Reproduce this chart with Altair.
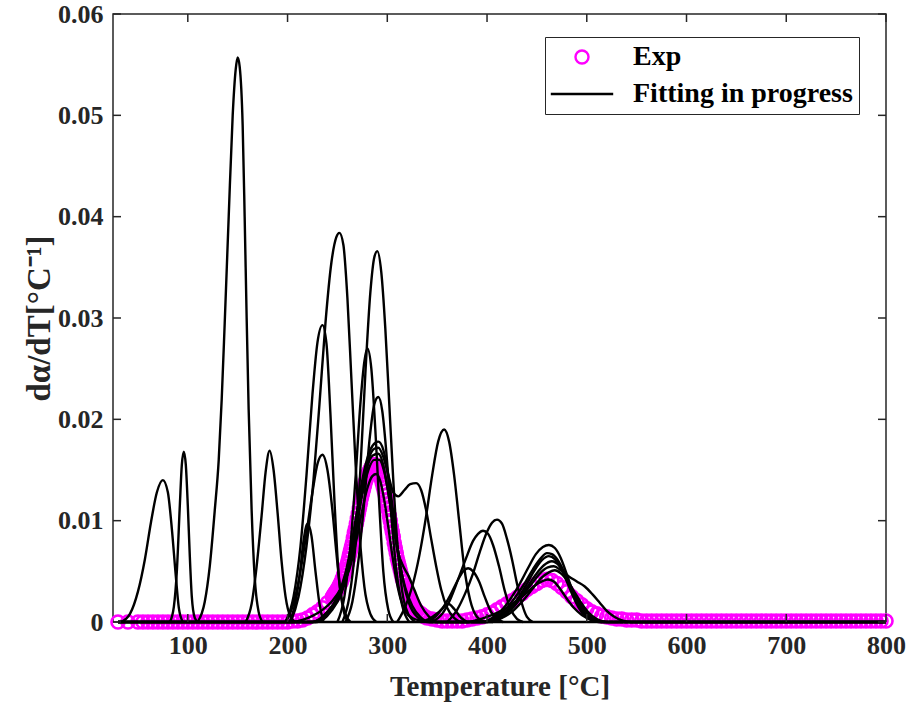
import altair as alt
import pandas as pd

# ---------------- data ----------------
exp_T = [30, 40, 50, 55, 60, 65, 70, 75, 80, 85, 90, 95, 100, 105, 110, 115, 120, 125, 130, 135,
         140, 145, 150, 155, 160, 165, 170, 175, 180, 185, 190, 195, 200, 205, 210, 215, 220, 225,
         230, 235, 240,
         245, 246, 247, 248, 249, 250, 251, 252, 253, 254, 255, 256, 257, 258, 259, 260, 261, 262,
         263, 264, 265, 266, 267, 268, 269, 270, 271, 272, 273, 274, 275, 276, 277, 278, 279, 280,
         281, 282, 283, 284, 285, 286, 287, 288, 289, 290, 291, 292, 293, 294, 295, 296, 297, 298,
         299, 300, 301, 302, 303, 304, 305, 306, 307, 308, 309, 310, 311, 312, 313, 314, 315, 316,
         317, 318, 319, 320, 321, 322, 323, 324, 325, 326, 327, 328, 329, 330, 332, 334, 336, 338,
         340, 345, 350, 355, 360, 365, 370, 375, 380, 385, 390, 395, 400, 405,
         410, 415, 420, 425, 430, 435, 440, 445, 450, 455, 460, 465, 470, 475, 480, 485, 490, 495,
         500, 505, 510, 515, 520, 525, 530, 535, 540, 545, 550, 555, 560, 565, 570, 575, 580, 585,
         590, 595, 600, 605, 610, 615, 620, 625, 630, 635, 640, 645, 650, 655, 660, 665, 670, 675,
         680, 685, 690, 695, 700, 705, 710, 715, 720, 725, 730, 735, 740, 745, 750, 755, 760, 765,
         770, 775, 780, 785, 790, 795, 800]
exp_y = [0.0, 0.0, 0.0, 0.0, 0.0, 0.0, 0.0, 0.0, 0.0, 0.0, 0.0, 0.0, 0.0, 0.0, 0.0, 0.0, 0.0, 0.0, 0.0, 0.0,
         0.0, 0.0, 0.0, 0.0, 0.0, 0.0, 0.0, 0.0, 0.0, 0.0, 0.0, 0.0, 0.0, 0.0001, 0.0001, 0.0002, 0.0004, 0.0007,
         0.0010, 0.0014, 0.0019,
         0.0025, 0.0026, 0.0028, 0.0029, 0.0031, 0.0032, 0.0034, 0.0036, 0.0038, 0.0040, 0.0043, 0.0046, 0.0049, 0.0052, 0.0055, 0.0058, 0.0062, 0.0066,
         0.0070, 0.0074, 0.0078, 0.0083, 0.0088, 0.0092, 0.0097, 0.0102, 0.0107, 0.0112, 0.0117, 0.0122, 0.0126, 0.0130, 0.0134, 0.0138, 0.0141, 0.0144,
         0.0147, 0.0149, 0.0151, 0.0153, 0.0154, 0.0155, 0.0155, 0.0155, 0.0154, 0.0152, 0.0150, 0.0147, 0.0144, 0.0141, 0.0137, 0.0133, 0.0129, 0.0125,
         0.0120, 0.0116, 0.0111, 0.0105, 0.0100, 0.0094, 0.0089, 0.0084, 0.0078, 0.0073, 0.0068, 0.0063, 0.0059, 0.0055, 0.0051, 0.0047, 0.0043, 0.0040,
         0.0036, 0.0033, 0.0030, 0.0028, 0.0026, 0.0024, 0.0022, 0.0020, 0.0018, 0.0016, 0.0015, 0.0013, 0.0012, 0.0011, 0.0009, 0.0008, 0.0006, 0.0005,
         0.0004, 0.0003, 0.0002, 0.0001, 0.0001, 0.0001, 0.0001, 0.0001, 0.0002, 0.0003, 0.0004, 0.0005, 0.0007, 0.0009,
         0.0012, 0.0015, 0.0018, 0.0021, 0.0024, 0.0028, 0.0032, 0.0035, 0.0038, 0.0041, 0.0042, 0.0041, 0.0038, 0.0034, 0.0030, 0.0025, 0.0021, 0.0017,
         0.0013, 0.0010, 0.0008, 0.0006, 0.0005, 0.0004, 0.0003, 0.0003, 0.0002, 0.0002, 0.0002, 0.0001, 0.0001, 0.0001, 0.0001, 0.0001, 0.0001, 0.0001,
         0.0001, 0.0001, 0.0001, 0.0001, 0.0001, 0.0001, 0.0001, 0.0001, 0.0001, 0.0001, 0.0001, 0.0001, 0.0001, 0.0001, 0.0001, 0.0001, 0.0001, 0.0001,
         0.0001, 0.0001, 0.0001, 0.0001, 0.0001, 0.0001, 0.0001, 0.0001, 0.0001, 0.0001, 0.0001, 0.0001, 0.0001, 0.0001, 0.0001, 0.0001, 0.0001, 0.0001,
         0.0001, 0.0001, 0.0001, 0.0001, 0.0001, 0.0001, 0.0001]

# fitting curves (T, dalpha/dT)
fit_baseline = [(30, 0.0), (800, 0.0)]
fit_best = [(30, 0), (205, 0), (215, 0.0002), (225, 0.0006), (235, 0.0012), (245, 0.0021), (255, 0.0036),
            (262, 0.0052), (268, 0.0076), (274, 0.0106), (280, 0.0132), (285, 0.0144), (289, 0.0146),
            (293, 0.0139), (297, 0.0120), (301, 0.0094), (305, 0.0066), (309, 0.0042), (313, 0.0024),
            (318, 0.0011), (325, 0.0004), (335, 0.0001), (345, 0), (380, 0), (390, 0.0002), (400, 0.0005),
            (410, 0.0009), (420, 0.0014), (430, 0.0021), (440, 0.0029), (448, 0.0036), (455, 0.0040),
            (461, 0.0042), (467, 0.0040), (473, 0.0033), (480, 0.0023), (487, 0.0014), (495, 0.0007),
            (505, 0.0002), (515, 0), (800, 0)]
fit_L1 = [(30, 0), (225, 0), (240, 0.0010), (250, 0.0025), (258, 0.0048), (265, 0.0082), (271, 0.0118),
          (277, 0.0150), (283, 0.0170), (288, 0.0177), (291, 0.0178), (296, 0.0170),
          (301, 0.0145), (306, 0.0108), (311, 0.0070), (316, 0.0040), (322, 0.0018), (330, 0.0005),
          (340, 0), (395, 0), (405, 0.0004), (415, 0.0012), (425, 0.0025), (433, 0.0038), (441, 0.0053),
          (449, 0.0067), (456, 0.0074), (462, 0.0076), (468, 0.0073), (474, 0.0063), (480, 0.0047),
          (486, 0.0030), (492, 0.0016), (500, 0.0006), (510, 0.0001), (520, 0), (800, 0)]
fit_L2 = [(30, 0), (225, 0), (240, 0.0010), (250, 0.0024), (258, 0.0046), (265, 0.0078), (271, 0.0114),
          (277, 0.0146), (282, 0.0163), (287, 0.0171), (291, 0.0172), (296, 0.0163),
          (301, 0.0145), (306, 0.0128), (311, 0.0124), (317, 0.0130), (323, 0.0136), (329, 0.0137),
          (334, 0.0130), (339, 0.0110), (344, 0.0082), (349, 0.0055), (354, 0.0032), (360, 0.0014),
          (367, 0.0004), (375, 0), (398, 0), (408, 0.0004), (418, 0.0012), (428, 0.0024), (437, 0.0037),
          (446, 0.0052), (454, 0.0063), (460, 0.0068), (465, 0.0067), (471, 0.0061), (477, 0.0050),
          (483, 0.0036), (489, 0.0023), (495, 0.0012), (503, 0.0004), (512, 0), (800, 0)]
fit_L3 = [(30, 0), (228, 0), (242, 0.0010), (252, 0.0025), (260, 0.0050), (267, 0.0085), (273, 0.0122),
          (279, 0.0150), (285, 0.0164), (291, 0.0166), (296, 0.0155), (301, 0.0128),
          (306, 0.0095), (311, 0.0068), (316, 0.0055), (321, 0.0046), (327, 0.0032), (334, 0.0016),
          (342, 0.0005), (350, 0), (400, 0), (410, 0.0004), (420, 0.0011), (430, 0.0021), (440, 0.0034),
          (449, 0.0047), (457, 0.0056), (465, 0.0060), (472, 0.0056), (479, 0.0045), (486, 0.0031),
          (493, 0.0018), (501, 0.0008), (510, 0.0002), (520, 0), (800, 0)]
fit_L4 = [(30, 0), (230, 0), (244, 0.0011), (254, 0.0028), (262, 0.0055), (269, 0.0092), (275, 0.0126),
          (281, 0.0150), (287, 0.0160), (292, 0.0160), (297, 0.0148), (302, 0.0122),
          (307, 0.0090), (312, 0.0060), (318, 0.0034), (325, 0.0016), (333, 0.0005), (342, 0), (405, 0),
          (415, 0.0005), (425, 0.0013), (435, 0.0025), (445, 0.0038), (454, 0.0049), (461, 0.0054),
          (467, 0.0055), (474, 0.0051), (482, 0.0045), (490, 0.0040), (498, 0.0035), (506, 0.0027),
          (513, 0.0019), (520, 0.0011), (528, 0.0005), (537, 0.0001), (545, 0), (800, 0)]
peak_A = [(33, 0), (42, 0.0008), (50, 0.0030), (57, 0.0062), (63, 0.0098), (69, 0.0128), (75, 0.0140),
          (80, 0.0128), (84, 0.0092), (88, 0.0045), (91, 0.0014), (95, 0)]
peak_B = [(82, 0), (86, 0.0015), (89, 0.0050), (92, 0.0115), (94, 0.0155), (96, 0.0168), (98, 0.0155),
          (100, 0.0115), (102, 0.0065), (104, 0.0025), (107, 0.0004), (110, 0)]
peak_C = [(110, 0), (117, 0.0020), (122, 0.0055), (127, 0.0110), (131, 0.0160), (134, 0.0220),
          (137, 0.0295), (141, 0.0400), (145, 0.0500), (148, 0.0545), (150, 0.0557), (152, 0.0548),
          (155, 0.0490), (157, 0.0400), (159, 0.0300), (161, 0.0210), (164, 0.0110), (167, 0.0045),
          (171, 0.0010), (175, 0)]
peak_D = [(158, 0), (164, 0.0018), (169, 0.0055), (174, 0.0105), (178, 0.0148), (182, 0.0169),
          (186, 0.0150), (190, 0.0108), (194, 0.0060), (198, 0.0025), (203, 0.0005), (208, 0)]
peak_E = [(202, 0), (207, 0.0015), (212, 0.0045), (216, 0.0080), (220, 0.0097), (224, 0.0085),
          (228, 0.0050), (232, 0.0018), (236, 0)]
peak_F = [(198, 0), (206, 0.0025), (213, 0.0075), (219, 0.0145), (225, 0.0225), (230, 0.0276),
          (235, 0.0293), (239, 0.0275), (243, 0.0205), (247, 0.0120), (251, 0.0050), (256, 0.0012), (261, 0)]
peak_G = [(203, 0), (211, 0.0025), (219, 0.0075), (226, 0.0140), (232, 0.0215), (238, 0.0295),
          (244, 0.0355), (249, 0.0380), (252, 0.0384), (256, 0.0372), (260, 0.0320), (264, 0.0240),
          (268, 0.0160), (272, 0.0090), (277, 0.0035), (283, 0.0008), (289, 0)]
peak_H = [(198, 0), (205, 0.0015), (212, 0.0045), (219, 0.0088), (225, 0.0128), (230, 0.0156),
          (235, 0.0165), (240, 0.0150), (245, 0.0110), (249, 0.0068), (253, 0.0030), (258, 0.0008), (263, 0)]
peak_I = [(255, 0), (262, 0.0025), (268, 0.0075), (273, 0.0150), (278, 0.0245), (283, 0.0325),
          (287, 0.0360), (290, 0.0366), (294, 0.0345), (298, 0.0290), (302, 0.0215), (306, 0.0140),
          (310, 0.0078), (315, 0.0030), (321, 0.0008), (328, 0)]
peak_J = [(250, 0), (257, 0.0025), (263, 0.0075), (268, 0.0140), (273, 0.0215), (277, 0.0257),
          (280, 0.0270), (284, 0.0250), (288, 0.0190), (292, 0.0115), (296, 0.0050), (301, 0.0012), (306, 0)]
peak_K = [(258, 0), (265, 0.0020), (271, 0.0060), (277, 0.0120), (282, 0.0178), (287, 0.0215),
          (291, 0.0222), (295, 0.0208), (299, 0.0168), (304, 0.0105), (309, 0.0052), (315, 0.0016), (322, 0)]
peak_M = [(310, 0), (318, 0.0015), (325, 0.0035), (332, 0.0065), (339, 0.0105), (345, 0.0145),
          (351, 0.0178), (357, 0.0190), (362, 0.0178), (367, 0.0145), (372, 0.0100), (377, 0.0055),
          (383, 0.0022), (390, 0.0005), (398, 0)]
peak_N = [(360, 0), (370, 0.0012), (378, 0.0028), (386, 0.0048), (393, 0.0070), (400, 0.0089),
          (405, 0.0098), (410, 0.0101), (415, 0.0097), (420, 0.0082), (425, 0.0062), (430, 0.0038),
          (435, 0.0018), (440, 0.0005), (446, 0)]
peak_O = [(345, 0), (355, 0.0008), (363, 0.0022), (371, 0.0042), (379, 0.0063), (386, 0.0080),
          (391, 0.0087), (396, 0.0090), (401, 0.0087), (406, 0.0076), (412, 0.0055), (418, 0.0030),
          (424, 0.0012), (430, 0.0003), (436, 0)]
peak_P = [(335, 0), (345, 0.0005), (355, 0.0013), (363, 0.0026), (370, 0.0040), (376, 0.0050),
          (381, 0.0053), (386, 0.0050), (392, 0.0040), (398, 0.0024), (404, 0.0010), (410, 0.0003), (416, 0)]
peak_Q = [(340, 0), (348, 0.0005), (355, 0.0013), (361, 0.0018), (367, 0.0013), (374, 0.0004), (380, 0)]
peak_S1 = [(400, 0), (410, 0.0004), (420, 0.0011), (430, 0.0022), (439, 0.0036), (447, 0.0050),
           (455, 0.0061), (462, 0.0065), (468, 0.0062), (474, 0.0053), (480, 0.0040), (486, 0.0026),
           (492, 0.0014), (499, 0.0005), (507, 0.0001), (515, 0)]
peak_S2 = [(405, 0), (415, 0.0004), (425, 0.0010), (435, 0.0020), (445, 0.0032), (454, 0.0043),
           (462, 0.0049), (468, 0.0051), (474, 0.0048), (481, 0.0040), (488, 0.0029), (495, 0.0018),
           (502, 0.0009), (510, 0.0003), (518, 0)]

fit_curves = {
    "base": fit_baseline, "best": fit_best, "L1": fit_L1, "L2": fit_L2, "L3": fit_L3, "L4": fit_L4,
    "A": peak_A, "B": peak_B, "C": peak_C, "D": peak_D, "E": peak_E, "F": peak_F, "G": peak_G,
    "H": peak_H, "I": peak_I, "J": peak_J, "K": peak_K, "M": peak_M, "N": peak_N, "O": peak_O,
    "P": peak_P, "Q": peak_Q, "S1": peak_S1, "S2": peak_S2,
}

series_names = ["Exp", "Fitting in progress"]
x_ticks = [100, 200, 300, 400, 500, 600, 700, 800]
y_ticks = [0, 0.01, 0.02, 0.03, 0.04, 0.05, 0.06]

# ---------------- build tables ----------------
exp_df = pd.DataFrame({"T": exp_T, "y": exp_y, "series": "Exp"})
rows = []
for name, pts in fit_curves.items():
    for i, (t, v) in enumerate(pts):
        rows.append({"curve": name, "T": t, "y": v, "ord": i})
fit_df = pd.DataFrame(rows)

W, H = 773, 608
FONT = "Liberation Serif"
AX = "#262626"

x_scale = alt.Scale(domain=[25, 800], nice=False, zero=False)
y_scale = alt.Scale(domain=[0, 0.06], nice=False, zero=False)
x_axis = alt.Axis(values=x_ticks, format="d", title="Temperature [°C]", labelFlush=False,
                  labelOverlap=False, titlePadding=14, titleFontSize=29)
y_axis = alt.Axis(values=y_ticks, format="~g", title="dα/dT[°C⁻¹]", labelFlush=False,
                  labelOverlap=False, titlePadding=1, titleFontSize=33)

def X():
    return alt.X("T:Q", scale=x_scale, axis=x_axis)

def Y():
    return alt.Y("y:Q", scale=y_scale, axis=y_axis)

legend = alt.Legend(title=None, orient="none", legendX=432, legendY=23, fillColor="white",
                    strokeColor=AX, padding=6, labelFont=FONT, labelFontSize=28,
                    labelFontWeight="bold", labelColor="black", labelLimit=500,
                    symbolStrokeWidth=2.4, symbolOpacity=1, rowPadding=9, labelOffset=37,
                    symbolOffset=17)

exp_layer = alt.Chart(exp_df).mark_point(filled=False, strokeWidth=2.6, opacity=1).encode(
    x=X(), y=Y(),
    color=alt.Color("series:N", scale=alt.Scale(domain=series_names, range=["#ff00ff", "#000000"]),
                    legend=legend),
    shape=alt.Shape("series:N", scale=alt.Scale(domain=series_names, range=["circle", "M-2.6,0H2.6"]),
                    legend=legend),
    size=alt.Size("series:N", scale=alt.Scale(domain=series_names, range=[170, 576]), legend=legend),
)

fit_layer = alt.Chart(fit_df).mark_line(color="black", strokeWidth=2.4, interpolate="monotone").encode(
    x=X(), y=Y(), detail="curve:N", order="ord:Q"
)

xt_df = pd.DataFrame({"T": x_ticks})
yt_df = pd.DataFrame({"y": y_ticks})
tick_bottom = alt.Chart(xt_df).mark_rule(color=AX, strokeWidth=1.5).encode(
    x=X(), y=alt.value(H), y2=alt.value(H - 8))
tick_top = alt.Chart(xt_df).mark_rule(color=AX, strokeWidth=1.5).encode(
    x=X(), y=alt.value(0), y2=alt.value(8))
tick_left = alt.Chart(yt_df).mark_rule(color=AX, strokeWidth=1.5).encode(
    y=Y(), x=alt.value(0), x2=alt.value(8))
tick_right = alt.Chart(yt_df).mark_rule(color=AX, strokeWidth=1.5).encode(
    y=Y(), x=alt.value(W), x2=alt.value(W - 8))

chart = alt.layer(exp_layer, fit_layer, tick_bottom, tick_top, tick_left, tick_right).properties(
    width=W, height=H,
    autosize=alt.AutoSizeParams(type="none"),
    padding={"left": 113, "top": 14, "right": 28, "bottom": 87},
    background="white",
).configure_view(
    stroke=AX, strokeWidth=1.5
).configure_axis(
    domain=False, ticks=False, grid=False,
    labelFont=FONT, labelFontWeight="bold", labelFontSize=26, labelColor=AX, labelPadding=10,
    titleFont=FONT, titleFontWeight="bold", titleColor=AX,
)

chart.save("out.html", embed_options={"renderer": "svg", "actions": False})
